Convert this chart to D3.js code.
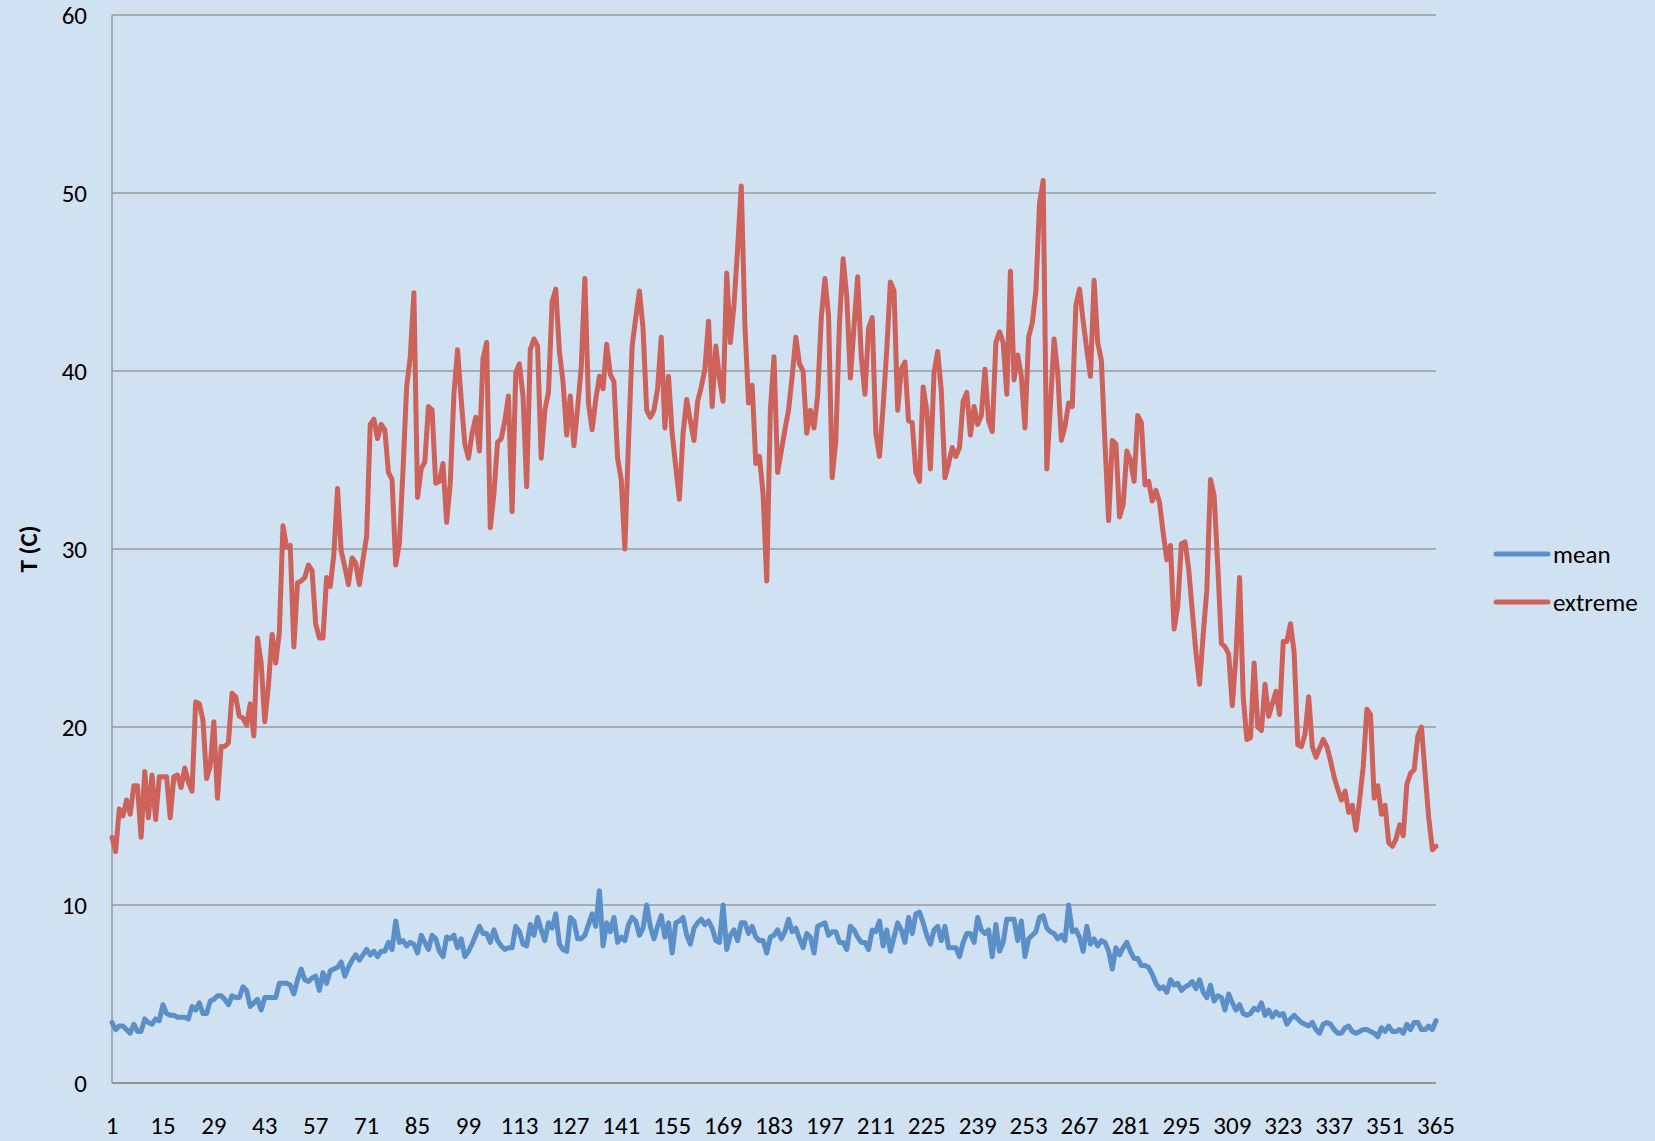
<!DOCTYPE html>
<html>
<head>
<meta charset="utf-8">
<script src="https://cdn.jsdelivr.net/npm/d3@7"></script>
<style>
  html, body { margin: 0; padding: 0; background: #D0E1F2; }
  svg { display: block; }
  text { font-family: Carlito, "Liberation Sans", "Noto Sans", sans-serif; fill: #000; }
</style>
</head>
<body>
<div id="chart"></div>
<script>
// day of year, 1..365
const days = d3.range(1, 366);

const extremeTemp = [
  13.8, 13.0, 15.4, 15.0, 15.9, 15.1, 16.7, 16.7, 13.8, 17.5,
  14.9, 17.3, 14.8, 17.2, 17.2, 17.2, 14.9, 17.2, 17.3, 16.6,
  17.7, 16.9, 16.4, 21.4, 21.3, 20.4, 17.1, 17.8, 20.3, 16.0,
  18.9, 18.9, 19.1, 21.9, 21.7, 20.6, 20.5, 20.1, 21.3, 19.5,
  25.0, 23.6, 20.3, 22.3, 25.2, 23.6, 25.3, 31.3, 30.1, 30.2,
  24.5, 28.1, 28.2, 28.4, 29.1, 28.8, 25.8, 25.0, 25.0, 28.4,
  27.9, 29.7, 33.4, 29.9, 29.0, 28.0, 29.5, 29.2, 28.0, 29.4,
  30.7, 37.0, 37.3, 36.2, 37.0, 36.7, 34.3, 33.9, 29.1, 30.3,
  34.4, 39.1, 40.8, 44.4, 32.9, 34.5, 34.9, 38.0, 37.8, 33.7,
  33.8, 34.8, 31.5, 33.7, 38.7, 41.2, 38.4, 35.9, 35.1, 36.5,
  37.4, 35.5, 40.7, 41.6, 31.2, 33.1, 36.0, 36.2, 37.2, 38.6,
  32.1, 39.9, 40.4, 38.6, 33.5, 41.2, 41.8, 41.4, 35.1, 37.8,
  38.8, 43.9, 44.6, 41.1, 39.4, 36.4, 38.6, 35.8, 37.9, 40.2,
  45.2, 38.2, 36.7, 38.4, 39.7, 39.0, 41.5, 39.8, 39.4, 35.1,
  33.9, 30.0, 36.0, 41.4, 43.0, 44.5, 42.4, 37.8, 37.4, 37.8,
  39.0, 41.9, 36.8, 39.7, 36.5, 34.6, 32.8, 36.5, 38.4, 37.2,
  36.1, 38.3, 39.1, 40.1, 42.8, 38.0, 41.4, 39.6, 38.3, 45.5,
  41.6, 43.7, 46.9, 50.4, 42.6, 38.2, 39.2, 34.8, 35.2, 33.1,
  28.2, 37.8, 40.8, 34.3, 35.5, 36.7, 37.8, 39.7, 41.9, 40.4,
  40.0, 36.5, 37.8, 36.8, 38.6, 43.0, 45.2, 43.1, 34.0, 36.1,
  42.7, 46.3, 44.2, 39.6, 42.5, 45.3, 40.8, 38.7, 42.4, 43.0,
  36.5, 35.2, 38.0, 41.2, 45.0, 44.5, 37.8, 40.1, 40.5, 37.2,
  37.1, 34.3, 33.8, 39.1, 37.8, 34.5, 39.9, 41.1, 38.9, 34.0,
  34.8, 35.7, 35.2, 35.7, 38.3, 38.8, 36.4, 38.0, 37.0, 37.5,
  40.1, 37.2, 36.6, 41.6, 42.2, 41.6, 38.7, 45.6, 39.5, 40.9,
  39.7, 36.8, 41.9, 42.7, 44.5, 49.4, 50.7, 34.5, 38.1, 41.8,
  39.9, 36.1, 36.9, 38.2, 38.0, 43.7, 44.6, 42.8, 41.2, 39.7,
  45.1, 41.6, 40.6, 35.9, 31.6, 36.1, 35.9, 31.8, 32.5, 35.5,
  35.0, 33.8, 37.5, 37.1, 33.6, 33.8, 32.7, 33.3, 32.6, 30.9,
  29.4, 30.2, 25.5, 26.8, 30.3, 30.4, 28.9, 26.5, 24.2, 22.4,
  25.2, 27.7, 33.9, 33.0, 29.1, 24.7, 24.5, 24.1, 21.2, 24.0,
  28.4, 21.7, 19.3, 19.4, 23.6, 20.0, 19.8, 22.4, 20.6, 21.3,
  22.0, 20.7, 24.8, 24.8, 25.8, 24.2, 19.0, 18.9, 19.6, 21.7,
  18.9, 18.3, 18.8, 19.3, 18.9, 18.1, 17.2, 16.5, 15.9, 16.4,
  15.2, 15.6, 14.2, 15.9, 17.8, 21.0, 20.7, 16.0, 16.7, 15.1,
  15.6, 13.5, 13.3, 13.7, 14.5, 13.9, 16.8, 17.4, 17.6, 19.5,
  20.0, 17.4, 14.9, 13.1, 13.3
];

const meanTemp = [
  3.4, 3.0, 3.2, 3.2, 3.0, 2.8, 3.3, 2.9, 2.9, 3.6,
  3.4, 3.3, 3.6, 3.5, 4.4, 3.9, 3.8, 3.8, 3.7, 3.7,
  3.7, 3.6, 4.3, 4.1, 4.5, 3.9, 3.9, 4.6, 4.7, 4.9,
  4.9, 4.7, 4.4, 4.9, 4.8, 4.8, 5.4, 5.2, 4.3, 4.5,
  4.7, 4.1, 4.8, 4.8, 4.8, 4.8, 5.6, 5.6, 5.6, 5.5,
  5.0, 5.8, 6.4, 5.8, 5.7, 5.9, 6.0, 5.2, 6.2, 5.6,
  6.3, 6.4, 6.5, 6.8, 6.0, 6.5, 6.9, 7.2, 6.9, 7.2,
  7.5, 7.2, 7.4, 7.1, 7.4, 7.4, 7.9, 7.5, 9.1, 7.9,
  8.0, 7.7, 7.9, 7.8, 7.3, 8.3, 7.9, 7.5, 8.3, 8.1,
  7.4, 7.1, 8.2, 8.1, 8.3, 7.6, 8.1, 7.1, 7.4, 7.8,
  8.3, 8.8, 8.4, 8.4, 7.9, 8.6, 8.0, 7.7, 7.5, 7.6,
  7.6, 8.8, 8.5, 7.8, 7.7, 8.9, 8.3, 9.3, 8.6, 8.0,
  9.0, 8.7, 9.5, 7.8, 7.5, 7.4, 9.3, 9.1, 8.1, 8.1,
  8.3, 8.9, 9.5, 8.8, 10.8, 7.7, 9.0, 8.5, 9.3, 7.9,
  8.2, 8.0, 8.9, 9.3, 9.1, 8.3, 8.7, 10.0, 8.8, 8.1,
  8.8, 9.4, 8.2, 9.0, 7.3, 9.0, 9.1, 9.3, 8.3, 7.8,
  8.7, 9.0, 9.2, 8.9, 9.1, 8.7, 8.0, 7.9, 10.0, 7.5,
  8.3, 8.6, 8.0, 9.0, 9.0, 8.4, 8.8, 8.2, 8.0, 8.0,
  7.3, 8.2, 8.3, 8.6, 8.1, 8.5, 9.2, 8.5, 8.7, 8.1,
  7.6, 8.4, 8.2, 7.3, 8.8, 8.9, 9.0, 8.3, 8.5, 8.5,
  7.9, 7.9, 7.5, 8.8, 8.6, 8.2, 7.9, 7.9, 7.5, 8.6,
  8.5, 9.1, 7.7, 8.6, 7.4, 8.2, 9.0, 8.6, 7.9, 9.3,
  8.4, 9.5, 9.6, 9.0, 8.3, 7.8, 8.6, 8.8, 8.0, 8.8,
  7.6, 7.6, 7.6, 7.1, 7.9, 8.4, 8.4, 7.9, 9.3, 8.6,
  8.4, 8.6, 7.1, 8.9, 7.4, 7.9, 9.2, 9.2, 9.2, 8.0,
  9.1, 7.1, 8.1, 8.3, 8.5, 9.3, 9.4, 8.7, 8.5, 8.4,
  8.1, 8.3, 8.0, 10.0, 8.5, 8.6, 8.2, 7.4, 8.8, 7.8,
  8.1, 7.7, 8.0, 7.9, 7.4, 6.4, 7.6, 7.2, 7.6, 7.9,
  7.4, 7.0, 7.0, 6.6, 6.6, 6.5, 6.1, 5.6, 5.3, 5.4,
  5.1, 5.8, 5.5, 5.6, 5.2, 5.4, 5.5, 5.7, 5.3, 5.8,
  5.1, 4.8, 5.5, 4.6, 4.9, 4.8, 4.1, 5.0, 4.5, 4.1,
  4.4, 3.9, 3.8, 3.9, 4.2, 4.1, 4.5, 3.8, 4.1, 3.7,
  4.0, 3.8, 3.9, 3.3, 3.6, 3.8, 3.6, 3.4, 3.3, 3.2,
  3.4, 3.0, 2.8, 3.3, 3.4, 3.3, 3.0, 2.8, 2.8, 3.1,
  3.2, 2.9, 2.8, 2.9, 3.0, 3.0, 2.9, 2.8, 2.6, 3.1,
  2.9, 3.2, 2.9, 2.9, 3.0, 2.8, 3.3, 3.0, 3.4, 3.4,
  3.0, 3.0, 3.2, 3.0, 3.5
];

const xTickLabels = [1, 15, 29, 43, 57, 71, 85, 99, 113, 127, 141, 155, 169, 183,
  197, 211, 225, 239, 253, 267, 281, 295, 309, 323, 337, 351, 365];
const yTickLabels = [0, 10, 20, 30, 40, 50, 60];

const seriesNames = ['mean', 'extreme'];
const seriesColors = ['#5B8FC8', '#CD625A'];

const width = 1655, height = 1141;
const plotLeft = 112, plotRight = 1436, plotTop = 15, plotBottom = 1083;

const svg = d3.select('#chart').append('svg')
  .attr('width', width)
  .attr('height', height);

svg.append('rect')
  .attr('width', width).attr('height', height)
  .attr('fill', '#D0E1F2');

const x = d3.scaleLinear().domain([1, 365]).range([plotLeft, plotRight]);
const y = d3.scaleLinear().domain([0, 60]).range([plotBottom, plotTop]);

// gridlines
svg.append('g')
  .selectAll('line')
  .data(yTickLabels.filter(d => d > 0))
  .enter().append('line')
  .attr('x1', plotLeft).attr('x2', plotRight)
  .attr('y1', d => y(d)).attr('y2', d => y(d))
  .attr('stroke', '#9a9a9a')
  .attr('stroke-width', 1.5);

// axis lines
svg.append('line')
  .attr('x1', plotLeft).attr('x2', plotLeft)
  .attr('y1', plotTop).attr('y2', plotBottom)
  .attr('stroke', '#9a9a9a').attr('stroke-width', 1.5);
svg.append('line')
  .attr('x1', plotLeft).attr('x2', plotRight)
  .attr('y1', plotBottom).attr('y2', plotBottom)
  .attr('stroke', '#949494').attr('stroke-width', 2);

// y tick labels
svg.append('g')
  .selectAll('text')
  .data(yTickLabels)
  .enter().append('text')
  .attr('x', 87)
  .attr('y', d => y(d))
  .attr('dy', '0.35em')
  .attr('text-anchor', 'end')
  .style('font-size', '25px')
  .text(d => d);

// x tick labels
svg.append('g')
  .selectAll('text')
  .data(xTickLabels)
  .enter().append('text')
  .attr('x', d => x(d))
  .attr('y', 1134)
  .attr('text-anchor', 'middle')
  .style('font-size', '25px')
  .text(d => d);

// y axis title
svg.append('text')
  .attr('transform', 'translate(37,' + ((plotTop + plotBottom) / 2) + ') rotate(-90)')
  .attr('text-anchor', 'middle')
  .style('font-size', '25px')
  .style('font-weight', 'bold')
  .text('T (C)');

const line = d3.line()
  .x((d, i) => x(days[i]))
  .y(d => y(d));

[meanTemp, extremeTemp].forEach((vals, k) => {
  svg.append('path')
    .datum(vals)
    .attr('fill', 'none')
    .attr('stroke', seriesColors[k])
    .attr('stroke-width', 5)
    .attr('stroke-linejoin', 'round')
    .attr('stroke-linecap', 'round')
    .attr('d', line);
});

// legend
const legend = svg.append('g');
seriesNames.forEach((name, k) => {
  const ly = 554 + k * 48;
  legend.append('line')
    .attr('x1', 1496).attr('x2', 1548)
    .attr('y1', ly).attr('y2', ly)
    .attr('stroke', seriesColors[k])
    .attr('stroke-width', 5)
    .attr('stroke-linecap', 'round');
  legend.append('text')
    .attr('x', 1553)
    .attr('y', ly)
    .attr('dy', '0.35em')
    .style('font-size', '25px')
    .text(name);
});
</script>
</body>
</html>
